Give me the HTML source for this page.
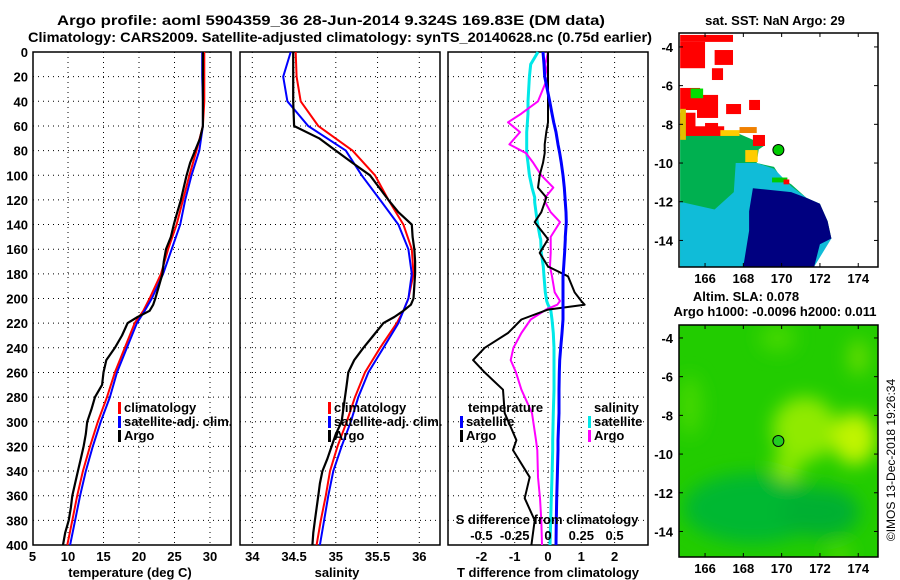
<!DOCTYPE html>
<html><head><meta charset="utf-8"><title>Argo profile</title>
<style>
html,body{margin:0;padding:0;background:#fff;}
svg{display:block;font-family:"Liberation Sans",Arial,sans-serif;font-weight:bold;}
</style></head>
<body>
<svg id="fig" width="900" height="580" viewBox="0 0 900 580" xmlns="http://www.w3.org/2000/svg">
<g id="titles" font-size="14" text-anchor="middle">
<text x="331" y="25" textLength="548" lengthAdjust="spacingAndGlyphs">Argo profile: aoml 5904359_36 28-Jun-2014 9.324S 169.83E (DM data)</text>
<text x="340" y="42" textLength="624" lengthAdjust="spacingAndGlyphs">Climatology: CARS2009. Satellite-adjusted climatology: synTS_20140628.nc (0.75d earlier)</text>
<text x="775" y="25" font-size="13">sat. SST: NaN Argo: 29</text>
<text x="746" y="301" font-size="13">Altim. SLA: 0.078</text>
<text x="775" y="316" font-size="13">Argo h1000: -0.0096 h2000: 0.011</text>
<text transform="translate(895,460) rotate(-90)" font-size="12" font-weight="normal">©IMOS 13-Dec-2018 19:26:34</text>
</g>
<g id="panels"></g>
<g id="maps"></g>
</svg>
<script>
// ---------- profile data ----------
const depthT = [0,20,40,60,80,100,120,140,160,180,200,210,220,240,260,280,300,320,340,360,380,400];
const tempClim = [29.2,29.2,29.2,29.0,28.1,27.1,26.2,25.3,24.1,23.1,21.5,20.6,19.4,18.0,16.6,15.5,14.2,13.1,12.1,11.3,10.6,9.9];
const tempSat  = [28.9,28.9,29.0,29.0,28.5,27.4,26.5,25.8,24.6,23.4,21.8,20.8,19.7,18.3,16.9,15.9,14.6,13.5,12.5,11.7,11.0,10.3];
const depthArgo = [0,20,40,60,70,80,90,100,110,120,130,140,150,160,170,180,190,200,205,210,215,220,230,240,250,260,270,280,290,300,310,320,330,340,350,360,370,380,390,400];
const tempArgo = [29.0,29.0,29.0,29.0,28.6,27.9,27.2,26.7,26.3,25.9,25.4,24.9,24.5,23.8,23.5,23.3,22.8,22.3,22.0,21.5,19.8,18.4,17.6,16.6,15.4,15.0,14.8,13.8,13.3,12.7,12.5,12.2,11.8,11.4,11.0,10.6,10.4,10.1,9.6,9.3];
const salClim = [34.52,34.53,34.58,34.79,35.2,35.47,35.63,35.81,35.91,35.93,35.87,35.81,35.73,35.53,35.35,35.23,35.13,35.02,34.93,34.88,34.82,34.77];
const salSat  = [34.46,34.37,34.42,34.67,35.12,35.31,35.53,35.75,35.87,35.91,35.87,35.81,35.75,35.57,35.39,35.27,35.18,35.07,34.97,34.91,34.86,34.81];
const salArgo = [34.49,34.49,34.49,34.5,34.8,35.0,35.2,35.41,35.52,35.63,35.75,35.91,35.92,35.94,35.95,35.95,35.94,35.93,35.9,35.81,35.7,35.57,35.45,35.33,35.22,35.15,35.13,35.11,35.09,35.07,35.0,34.95,34.9,34.84,34.81,34.79,34.77,34.75,34.73,34.72];
// difference panel
const depthD = [0,10,20,40,50,57,65,75,82,90,100,110,118,122,130,138,150,152,163,174,182,195,202,205,209,217,228,240,250,260,274,293,315,323,345,362,380,400];
const dTsat = [-0.15,-0.12,-0.1,0.05,0.12,0.17,0.24,0.3,0.35,0.4,0.45,0.49,0.51,0.52,0.54,0.55,0.52,0.52,0.5,0.47,0.45,0.45,0.45,0.45,0.45,0.45,0.42,0.38,0.35,0.34,0.33,0.33,0.3,0.3,0.28,0.26,0.25,0.24];
const dTargo = [0,0,0,0,0,0,-0.05,-0.1,-0.1,-0.15,-0.25,-0.3,-0.05,-0.1,-0.2,-0.4,-0.05,0,-0.25,0,0.6,0.8,1.0,1.1,0,-0.8,-1.2,-1.9,-2.25,-1.9,-1.35,-1.3,-0.95,-1.05,-0.55,-0.7,-0.4,-0.5];
const dSsat = [-0.075,-0.13,-0.14,-0.15,-0.15,-0.155,-0.16,-0.16,-0.16,-0.15,-0.14,-0.12,-0.1,-0.1,-0.09,-0.08,-0.06,-0.055,-0.05,-0.035,-0.03,-0.02,-0.01,0,0.02,0.03,0.04,0.045,0.045,0.045,0.045,0.04,0.035,0.035,0.03,0.025,0.02,0.015];
const dSargo = [0,-0.02,0,-0.075,-0.2,-0.3,-0.21,-0.29,-0.165,-0.11,-0.05,0.04,-0.02,-0.02,0.02,0.09,0.02,0.02,0.02,0.015,0.03,0.05,0.09,0.07,-0.015,-0.13,-0.2,-0.26,-0.28,-0.24,-0.2,-0.12,-0.09,-0.08,-0.075,-0.06,-0.05,-0.045];
// ticks
const depthTicks = [0,20,40,60,80,100,120,140,160,180,200,220,240,260,280,300,320,340,360,380,400];
const tTicks = [5,10,15,20,25,30];
const sTicks = [34,34.5,35,35.5,36];
const dTTicks = [-2,-1,0,1,2];
const dSTicks = [-0.5,-0.25,0,0.25,0.5];
const dSTickLabels = ["-0.5","-0.25","0","0.25","0.5"];
// maps
const lonTicks = [166,168,170,172,174];
const latTicks = [-4,-6,-8,-10,-12,-14];
const argoLon = 169.83, argoLat = -9.324;
// SST blocks [lon0,lat0,lon1,lat1,color]
const sstBlocks = [
 [164.7,-3.38,167.46,-3.74,'#ff0000'],[164.7,-3.74,166.0,-5.1,'#ff0000'],[166.5,-4.16,167.46,-4.93,'#ff0000'],
 [166.36,-5.1,166.94,-5.71,'#ff0000'],[164.7,-6.12,165.74,-7.26,'#ff0000'],[165.58,-6.48,166.68,-7.67,'#ff0000'],
 [167.1,-6.95,167.88,-7.47,'#ff0000'],[168.3,-6.74,168.87,-7.26,'#ff0000'],[166.0,-7.93,166.68,-8.55,'#ff0000'],
 [164.7,-7.4,165.5,-8.6,'#ff0000'],[165.4,-8.1,167.0,-8.6,'#ff0000'],[168.5,-8.55,169.13,-9.12,'#ff0000'],
 [167.8,-8.14,168.7,-8.45,'#f08000'],[165.25,-6.15,165.9,-6.65,'#00dd00'],[164.7,-7.2,165.0,-8.8,'#e0c000'],
 [168.1,-9.33,168.75,-9.95,'#ffcc00'],[169.5,-10.75,170.3,-11.0,'#00cc00'],[170.1,-10.85,170.4,-11.1,'#ff0000'],
 [166.8,-8.3,167.8,-8.6,'#ffcc00']
];
const sstGreen = [[164.7,-8.5],[167.8,-8.5],[168.5,-8.8],[169.1,-9.1],[168.8,-9.3],[168.7,-10.0],[169.6,-10.2],[170.0,-10.8],[170.5,-11.1],[171.3,-11.8],[172.0,-12.1],[172.4,-13.0],[172.6,-13.9],[172.0,-14.2],[171.7,-15.35],[164.7,-15.35]];
const sstCyan = [[167.6,-10.0],[168.7,-10.0],[169.6,-10.3],[170.5,-11.2],[171.3,-11.8],[172.0,-12.1],[172.6,-13.9],[171.7,-15.35],[164.7,-15.35],[164.7,-12.0],[166.5,-12.4],[167.5,-11.5]];
const sstNavy = [[168.5,-11.3],[170.5,-11.5],[171.3,-11.8],[172.0,-12.1],[172.4,-13.0],[172.6,-13.9],[172.0,-14.2],[171.7,-15.35],[168.0,-15.35],[168.3,-13.5],[168.3,-12.5]];

const NS='http://www.w3.org/2000/svg';
function mk(tag,attrs,parent){const e=document.createElementNS(NS,tag);for(const k in attrs)e.setAttribute(k,attrs[k]);parent.appendChild(e);return e;}
const P=document.getElementById('panels');
const M=document.getElementById('maps');
const Y0=52, Y1=545;
function yD(d){return Y0+d*(Y1-Y0)/400;}
function xT(t){return 32.5+(t-5)*7.1;}
function xS(s){return 252.3+(s-34)*83.5;}
function xDT(v){return 548+v*33.3;}
function xDS(v){return 548+v*4*33.3;}

function panelFrame(name,x0,x1,vticks,vfn){
  const g=mk('g',{},P);
  
  
  for(const d of depthTicks){ if(d===0||d===400)continue;
    const l=mk('line',{x1:x0,x2:x1,y1:yD(d),y2:yD(d),stroke:'#000','stroke-width':1,'stroke-dasharray':'1,4'},g);
    
    
  }
  for(const v of vticks){const x=vfn(v); if(x<=x0+1||x>=x1-1)continue;
    const l=mk('line',{x1:x,x2:x,y1:Y0,y2:Y1,stroke:'#000','stroke-width':1,'stroke-dasharray':'1,4'},g);
    
    
  }
  const r=mk('rect',{x:x0,y:Y0,width:x1-x0,height:Y1-Y0,fill:'none',stroke:'#000','stroke-width':1.5},g);
  
  
  return g;
}
function line(g,name,ds,vs,fx,color,w){
  let p='';for(let i=0;i<ds.length;i++)p+=(i?'L':'M')+fx(vs[i]).toFixed(1)+','+yD(ds[i]).toFixed(1);
  const e=mk('path',{d:p,fill:'none',stroke:color,'stroke-width':w,'stroke-linejoin':'round'},g);
  
  
}
function txt(g,name,x,y,s,opts){const t=mk('text',Object.assign({x:x,y:y,'font-size':13},opts||{}),g);t.textContent=s;
  
  
  return t;}
function legend(g,x,y,color,label){
  const m=mk('rect',{x:x,y:y-10,width:3,height:12,fill:color},g);
  
  
  txt(g,'legend-entry',x+6,y,label);
}

// Panel 1 temperature
const g1=panelFrame('temperature-panel',33,231,tTicks,xT);
line(g1,'temp-climatology-line',depthT,tempClim,xT,'#ff0000',2);
line(g1,'temp-satellite-line',depthT,tempSat,xT,'#0000ff',2);
line(g1,'temp-argo-line',depthArgo,tempArgo,xT,'#000',2.2);
for(const d of depthTicks) txt(g1,'depth-tick-label',28,yD(d)+5,String(d),{'text-anchor':'end'});
for(const t of tTicks) txt(g1,'temp-tick-label',xT(t),561,String(t),{'text-anchor':'middle'});
txt(g1,'x-axis-title-temperature',130,577,'temperature (deg C)',{'text-anchor':'middle'});
legend(g1,118,412,'#ff0000','climatology');
legend(g1,118,426,'#0000ff','satellite-adj. clim.');
legend(g1,118,440,'#000','Argo');

// Panel 2 salinity
const g2=panelFrame('salinity-panel',240,440,sTicks,xS);
line(g2,'sal-climatology-line',depthT,salClim,xS,'#ff0000',2);
line(g2,'sal-satellite-line',depthT,salSat,xS,'#0000ff',2);
line(g2,'sal-argo-line',depthArgo,salArgo,xS,'#000',2.2);
for(const s of sTicks) txt(g2,'sal-tick-label',xS(s),561,String(s),{'text-anchor':'middle'});
txt(g2,'x-axis-title-salinity',337,577,'salinity',{'text-anchor':'middle'});
legend(g2,328,412,'#ff0000','climatology');
legend(g2,328,426,'#0000ff','satellite-adj. clim.');
legend(g2,328,440,'#000','Argo');

// Panel 3 differences
const g3=panelFrame('difference-panel',448,648,dTTicks,xDT);
line(g3,'sal-diff-satellite-line',depthD,dSsat,xDS,'#00e8e8',3);
line(g3,'sal-diff-argo-line',depthD,dSargo,xDS,'#ff00ff',2);
line(g3,'temp-diff-argo-line',depthD,dTargo,xDT,'#000',2);
line(g3,'temp-diff-satellite-line',depthD,dTsat,xDT,'#0000ff',3);
for(const v of dTTicks) txt(g3,'tdiff-tick-label',xDT(v),561,String(v),{'text-anchor':'middle'});
for(let i=0;i<dSTicks.length;i++) txt(g3,'sdiff-tick-label',xDS(dSTicks[i]),540,dSTickLabels[i],{'text-anchor':'middle'});
txt(g3,'s-diff-axis-title',547,524,'S difference from climatology',{'text-anchor':'middle'});
txt(g3,'t-diff-axis-title',548,577,'T difference from climatology',{'text-anchor':'middle'});
txt(g3,'legend-title-temperature',468,412,'temperature');
legend(g3,460,426,'#0000ff','satellite');
legend(g3,460,440,'#000','Argo');
txt(g3,'legend-title-salinity',594,412,'salinity');
legend(g3,588,426,'#00e8e8','satellite');
legend(g3,588,440,'#ff00ff','Argo');

// ---------- maps ----------
const MX0=679,MX1=878;
function mx(lon){return MX0+(lon-164.64)*19.15;}
function makeMap(name,y0,y1,latTop){
  const g=mk('g',{},M);
  
  
  const my=lat=>y0+(latTop-lat)*19.35;
  return {g,my,y0,y1};
}
function poly(g,name,pts,my,color){
  const e=mk('polygon',{points:pts.map(p=>mx(p[0]).toFixed(1)+','+my(p[1]).toFixed(1)).join(' '),fill:color},g);
  
  
}
function mapAxes(m){
  const g=m.g;
  for(const lon of lonTicks){
    const x=mx(lon);
    mk('line',{x1:x,x2:x,y1:m.y1,y2:m.y1-4,stroke:'#000'},g);
    mk('line',{x1:x,x2:x,y1:m.y0,y2:m.y0+4,stroke:'#000'},g);
    txt(g,'lon-tick-label',x,m.y1+16,String(lon),{'text-anchor':'middle'});
  }
  for(const lat of latTicks){
    const y=m.my(lat);
    mk('line',{x1:MX0,x2:MX0+4,y1:y,y2:y,stroke:'#000'},g);
    mk('line',{x1:MX1,x2:MX1-4,y1:y,y2:y,stroke:'#000'},g);
    txt(g,'lat-tick-label',673,y+5,String(lat),{'text-anchor':'end'});
  }
  const r=mk('rect',{x:MX0,y:m.y0,width:MX1-MX0,height:m.y1-m.y0,fill:'none',stroke:'#000','stroke-width':1.5},g);
  
  
}
function argoMarker(m,fill){
  const c=mk('circle',{cx:mx(argoLon),cy:m.my(argoLat),r:5.5,fill:fill,stroke:'#000','stroke-width':1},m.g);
  
  
}
// SST map
const m1=makeMap('sst-map',33,267,-3.28);
poly(m1.g,'sst-green-region',sstGreen,m1.my,'#00b050');
poly(m1.g,'sst-cyan-region',sstCyan,m1.my,'#10bcd8');
poly(m1.g,'sst-navy-region',sstNavy,m1.my,'#000080');
for(const b of sstBlocks){
  const r=mk('rect',{x:mx(b[0]),y:m1.my(b[1]),width:mx(b[2])-mx(b[0]),height:m1.my(b[3])-m1.my(b[1]),fill:b[4]},m1.g);
  
  
}
argoMarker(m1,'#00cc00');
mapAxes(m1);

// SLA map
const m2=makeMap('sla-map',325,557,-3.33);
const defs=mk('defs',{},M);
const f=mk('filter',{id:'blur',x:'-50%',y:'-50%',width:'200%',height:'200%'},defs);
mk('feGaussianBlur',{stdDeviation:9},f);
const cp=mk('clipPath',{id:'m2clip'},defs);
mk('rect',{x:MX0,y:325,width:MX1-MX0,height:232},cp);
const sg=mk('g',{'clip-path':'url(#m2clip)'},m2.g);


mk('rect',{x:MX0,y:325,width:MX1-MX0,height:232,fill:'#22cc00'},sg);
const bg=mk('g',{filter:'url(#blur)'},sg);
mk('ellipse',{cx:mx(168.5),cy:m2.my(-12.8),rx:70,ry:35,fill:'#00b830'},bg);
mk('ellipse',{cx:mx(172),cy:m2.my(-13),rx:40,ry:25,fill:'#00b030'},bg);
mk('ellipse',{cx:mx(171.2),cy:m2.my(-8.7),rx:32,ry:32,fill:'#90ea00'},bg);
mk('ellipse',{cx:mx(170.3),cy:m2.my(-10.6),rx:14,ry:16,fill:'#88e800'},bg);
mk('ellipse',{cx:mx(173.8),cy:m2.my(-9.2),rx:22,ry:26,fill:'#c0f400'},bg);
mk('ellipse',{cx:mx(174),cy:m2.my(-5),rx:10,ry:18,fill:'#66dd00'},bg);
mk('ellipse',{cx:mx(169.8),cy:m2.my(-4),rx:18,ry:14,fill:'#44d800'},bg);
mk('ellipse',{cx:mx(165.2),cy:m2.my(-7.5),rx:12,ry:30,fill:'#44d800'},bg);
mk('ellipse',{cx:mx(173),cy:m2.my(-15.2),rx:12,ry:8,fill:'#55dd00'},bg);
argoMarker(m2,'#22cc22');
mapAxes(m2);
</script>
</body></html>
